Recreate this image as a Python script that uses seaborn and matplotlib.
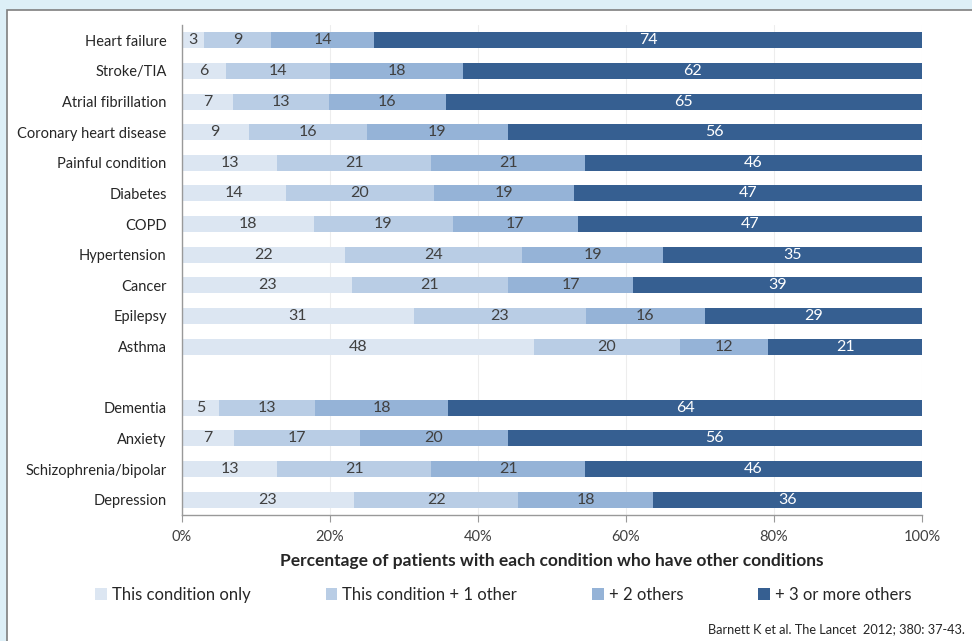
import matplotlib
matplotlib.use("Agg")
import matplotlib.pyplot as plt
import matplotlib.patches as mpatches
import seaborn as sns
import numpy as np
import pandas as pd

conditions = ["Heart failure", "Stroke/TIA", "Atrial fibrillation", "Coronary heart disease",
              "Painful condition", "Diabetes", "COPD", "Hypertension", "Cancer", "Epilepsy",
              "Asthma", " ", "Dementia", "Anxiety", "Schizophrenia/bipolar", "Depression"]
only = [3, 6, 7, 9, 13, 14, 18, 22, 23, 31, 48, 0, 5, 7, 13, 23]
plus1 = [9, 14, 13, 16, 21, 20, 19, 24, 21, 23, 20, 0, 13, 17, 21, 22]
plus2 = [14, 18, 16, 19, 21, 19, 17, 19, 17, 16, 12, 0, 18, 20, 21, 18]
plus3 = [74, 62, 65, 56, 46, 47, 47, 35, 39, 29, 21, 0, 64, 56, 46, 36]

series = ["This condition only", "This condition + 1 other", "+ 2 others", "+ 3 or more others"]
colors = ["#dce6f2", "#b9cde5", "#95b3d7", "#365f91"]
text_colors = ["#404040", "#404040", "#404040", "white"]

df = pd.DataFrame({"condition": conditions, series[0]: only, series[1]: plus1,
                   series[2]: plus2, series[3]: plus3})
vals = df[series].to_numpy(dtype=float)
tot = vals.sum(axis=1)
tot[tot == 0] = 1
pct = vals / tot[:, None] * 100
cum = np.cumsum(pct, axis=1)
for k, s in enumerate(series):
    df["cum_" + s] = cum[:, k]

sns.set_style("white")
plt.rcParams["font.family"] = ["Lato", "DejaVu Sans"]

fig = plt.figure(figsize=(9.72, 6.41), dpi=100)
fig.patch.set_facecolor("#ddeff7")
fig.patches.append(mpatches.Rectangle((7 / 972, -0.05), 1.1, 1 - 10 / 641 + 0.05,
                                      transform=fig.transFigure, facecolor="white",
                                      edgecolor="#7f7f7f", linewidth=1.2, zorder=-5))
ax = fig.add_axes([182 / 972, 1 - 515 / 641, 740 / 972, 490 / 641])
ax.set_facecolor("none")
ax.set_zorder(2)

# draw from the full stack back to the first segment
for k in range(3, -1, -1):
    sns.barplot(data=df, x="cum_" + series[k], y="condition", order=conditions,
                color=colors[k], saturation=1, width=0.52, orient="h",
                linewidth=0, ax=ax, zorder=2)

for i in range(len(conditions)):
    left = 0
    for k in range(4):
        if vals[i, k] > 0:
            ax.text(left + pct[i, k] / 2, i, f"{int(vals[i, k])}", ha="center", va="center",
                    fontsize=11.5, color=text_colors[k], zorder=3)
        left = cum[i, k]

ax.set_xlim(0, 100)
ax.set_ylim(len(conditions) - 0.5, -0.5)
ax.set_xticks(np.arange(0, 101, 20))
ax.set_xticklabels([f"{v}%" for v in range(0, 101, 20)], fontsize=10.5, color="#404040")
ax.set_yticks(range(len(conditions)))
ax.set_yticklabels(conditions, fontsize=10.5, color="#262626")
ax.set_yticks(np.arange(-0.5, len(conditions), 1), minor=True)
ax.tick_params(axis="y", which="major", length=0, pad=11)
ax.tick_params(axis="y", which="minor", length=5, color="#999999", direction="out")
ax.tick_params(axis="x", length=5, color="#999999", direction="out", pad=6, bottom=True)
ax.grid(axis="x", color="#ededed", linewidth=0.8, zorder=0)
ax.set_axisbelow(True)
for s in ["top", "right"]:
    ax.spines[s].set_visible(False)
for s in ["left", "bottom"]:
    ax.spines[s].set_color("#999999")
    ax.spines[s].set_linewidth(1)

ax.set_ylabel("")
ax.set_xlabel("Percentage of patients with each condition who have other conditions",
              fontsize=12.5, fontweight="bold", color="#262626", labelpad=6)

handles = [mpatches.Patch(facecolor=c, edgecolor="none") for c in colors]
fig.legend(handles, series, loc="center", bbox_to_anchor=(0.518, 1 - 595 / 641), ncol=4,
           frameon=False, fontsize=12, handlelength=0.7, handleheight=0.7,
           handletextpad=0.3, columnspacing=4.5, labelcolor="#262626")

fig.text(965 / 972, 1 - 629 / 641, "Barnett K et al. The Lancet  2012; 380: 37-43.",
         ha="right", va="center", fontsize=9.2, color="#262626")

fig.savefig("out.png", dpi=100, facecolor=fig.get_facecolor())
